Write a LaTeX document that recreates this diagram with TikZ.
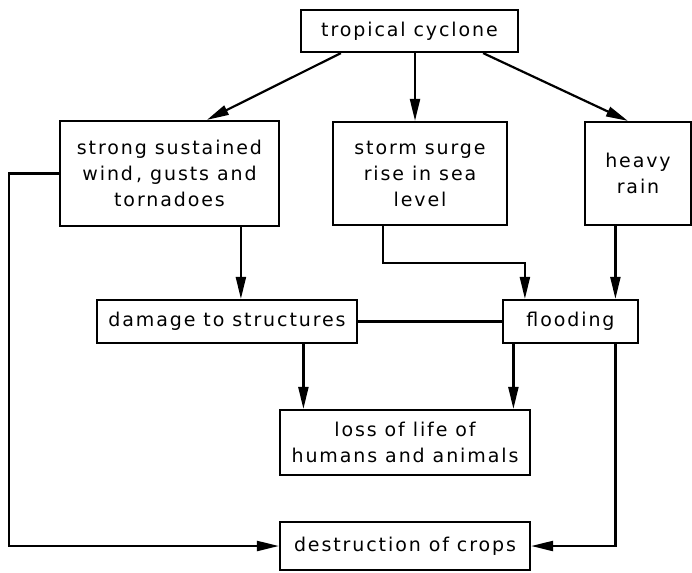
\documentclass[tikz,border=0pt]{standalone}
\usepackage{fontspec}
\setmainfont{DejaVu Sans}[LetterSpace=10]
\usetikzlibrary{arrows.meta}
\tikzset{box/.style={draw,align=center,inner sep=0pt,font=\fontsize{19}{26}\selectfont}}

\begin{document}
\begin{tikzpicture}[x=1pt,y=-1pt,>={Triangle[length=22pt,width=10pt]},line width=2.2pt]
\useasboundingbox (0,0) rectangle (692,572);
% boxes
\node[box,minimum width=217pt,minimum height=42pt] (cyclone) at (409.5,31) {tropical cyclone};
\node[box,minimum width=219pt,minimum height=105pt] (wind) at (169.5,173.5) {strong sustained\\wind\,, gusts and\\tornadoes};
\node[box,minimum width=174pt,minimum height=103pt] (surge) at (420,173.5) {storm surge\\rise in sea\\level};
\node[box,minimum width=106pt,minimum height=103pt] (rain) at (638,173.5) {heavy\\rain};
\node[box,minimum width=260pt,minimum height=43pt] (damage) at (227,321.5) {damage to structures};
\node[box,minimum width=135pt,minimum height=43pt] (flood) at (570.5,321.5) {flooding};
\node[box,minimum width=250pt,minimum height=65pt] (loss) at (405,442.5) {loss of life of\\humans and animals};
\node[box,minimum width=250pt,minimum height=48pt] (crops) at (405,546) {destruction of crops};
% from the cyclone
\draw[->] ([xshift=41pt]cyclone.south west) -- ([xshift=148pt]wind.north west);
\draw[->] ([xshift=5.5pt]cyclone.south) -- ([xshift=-5pt]surge.north);
\draw[->] ([xshift=-36pt]cyclone.south east) -- ([xshift=44pt]rain.north west);
% to damage and flooding
\draw[->] ([xshift=182pt]wind.south west) -- ([xshift=182pt]wind.south west |- damage.north);
\draw[->] ([xshift=51pt]surge.south west) -- ++(0,37) -| ([xshift=23pt]flood.north west);
\draw[->] ([xshift=31.5pt]rain.south west) -- ([xshift=31.5pt]rain.south west |- flood.north);
\draw (damage.east) -- (flood.west);
% to loss of life
\draw[->] ([xshift=207.5pt]damage.south west) -- ([xshift=207.5pt]damage.south west |- loss.north);
\draw[->] ([xshift=11.5pt]flood.south west) -- ([xshift=11.5pt]flood.south west |- loss.north);
% to crops
\draw[->] ([xshift=113.5pt]flood.south west) |- (crops.east);
\draw[->] (wind.west) -- ++(-50,0) |- (crops.west);
\end{tikzpicture}
\end{document}
